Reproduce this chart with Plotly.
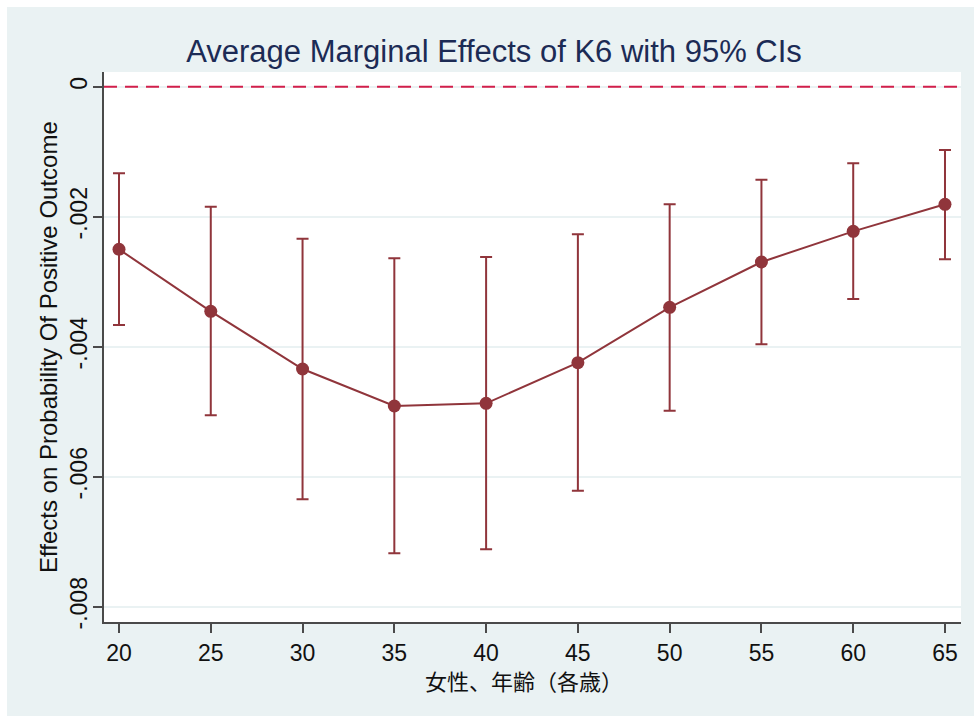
import plotly.graph_objects as go

# ---- data ----
ages = [20, 25, 30, 35, 40, 45, 50, 55, 60, 65]
margin = [-0.002502, -0.003456, -0.004343, -0.004912, -0.004871,
          -0.004246, -0.003394, -0.002697, -0.002225, -0.001809]
ci_upper = [-0.001333, -0.001846, -0.002338, -0.002640, -0.002620,
            -0.002271, -0.001810, -0.001431, -0.001178, -0.000974]
ci_lower = [-0.003666, -0.005056, -0.006348, -0.007178, -0.007117,
            -0.006215, -0.004985, -0.003963, -0.003266, -0.002655]
y_tickvals = [0, -0.002, -0.004, -0.006, -0.008]
y_ticktext = ["0", "-.002", "-.004", "-.006", "-.008"]
x_tickvals = [20, 25, 30, 35, 40, 45, 50, 55, 60, 65]

title_text = "Average Marginal Effects of K6 with 95% CIs"
y_title = "Effects on Probability Of Positive Outcome"
x_title = "女性、年齢（各歳）"

MAROON = "#90353B"
BG = "#EAF2F3"
AXIS = "#4A4A4A"

err_plus = [u - m for u, m in zip(ci_upper, margin)]
err_minus = [m - l for m, l in zip(margin, ci_lower)]

fig = go.Figure()
fig.add_trace(go.Scatter(
    x=ages, y=margin, mode="lines+markers",
    line=dict(color=MAROON, width=2),
    marker=dict(color=MAROON, size=13),
    error_y=dict(type="data", symmetric=False, array=err_plus,
                 arrayminus=err_minus, color=MAROON, thickness=2, width=6),
    showlegend=False,
))

# reference line at 0
fig.add_hline(y=0, line=dict(color="#D21F4B", width=2, dash="13px,8px"))

# white strips on top / left edges of the image
fig.add_shape(type="rect", xref="paper", yref="paper", x0=-0.3, x1=1.3,
              y0=(622 - 7) / 550, y1=1.4, fillcolor="white", line_width=0,
              layer="below")
fig.add_shape(type="rect", xref="paper", yref="paper", x0=-0.3,
              x1=(7 - 104) / 857, y0=-0.4, y1=1.4, fillcolor="white",
              line_width=0, layer="below")

fig.add_annotation(text=y_title, xref="paper", yref="paper",
                   x=(48 - 104) / 857, y=0.5, textangle=-90, showarrow=False,
                   xanchor="center", yanchor="middle",
                   font=dict(family="Liberation Sans, Arial", size=24, color="#111111"))
fig.add_annotation(text=x_title, xref="paper", yref="paper",
                   x=(524 - 104) / 857, y=(622 - 680) / 550, showarrow=False,
                   xanchor="center", yanchor="middle",
                   font=dict(family="Noto Sans CJK JP", size=22, color="#111111"))

fig.update_layout(
    width=974, height=716,
    margin=dict(l=104, r=13, t=72, b=94),
    paper_bgcolor=BG, plot_bgcolor="white",
    font=dict(family="Liberation Sans, Arial", color="#111111"),
    title=dict(text=title_text, xref="container", yref="container",
               x=494 / 974, y=1 - 51 / 716, xanchor="center", yanchor="middle",
               font=dict(family="Liberation Sans, Arial", size=31, color="#1C2B55")),
    xaxis=dict(range=[19.183, 65.872], tickvals=x_tickvals,
               showgrid=False, zeroline=False, showline=True,
               linecolor=AXIS, linewidth=2, ticks="outside", ticklen=9,
               tickcolor=AXIS, tickwidth=2, tickfont=dict(size=23),
               mirror=False),
    yaxis=dict(range=[-0.008235, 0.000226], tickvals=y_tickvals,
               ticktext=y_ticktext, tickangle=-90,
               showgrid=True, gridcolor=BG, gridwidth=1.5, zeroline=False,
               showline=True, linecolor=AXIS, linewidth=2, ticks="outside",
               ticklen=9, tickcolor=AXIS, tickwidth=2, tickfont=dict(size=23),
               ticklabelstandoff=-3),
)

fig.write_html("out.html")
